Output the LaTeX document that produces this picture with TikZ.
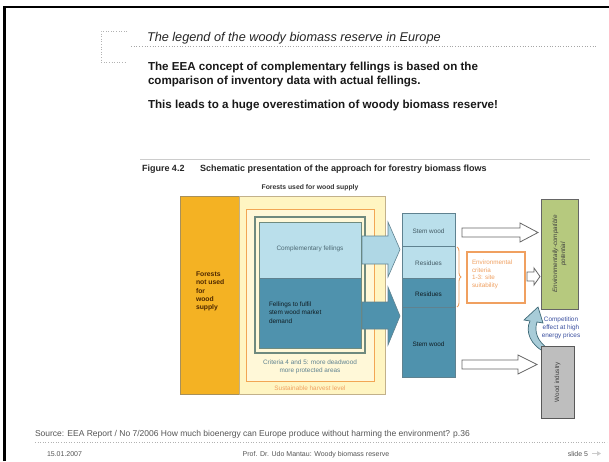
\documentclass[tikz,border=0pt]{standalone}
\usepackage{fontspec}
\setmainfont{Liberation Sans}
\usetikzlibrary{decorations.pathreplacing,arrows.meta}
\definecolor{orangebox}{HTML}{F4B223}
\definecolor{orangeedge}{HTML}{A8905A}
\definecolor{yellowbg}{HTML}{FFF5C2}
\definecolor{yellowin}{HTML}{FFF8D8}
\definecolor{orangeline}{HTML}{F2A654}
\definecolor{frameg}{HTML}{6F8A7E}
\definecolor{lightbluebox}{HTML}{BADFEB}
\definecolor{tealbox}{HTML}{4F92AD}
\definecolor{boxedge}{HTML}{5F8290}
\definecolor{greenbox}{HTML}{B6C97E}
\definecolor{greyboxfill}{HTML}{BEBEBE}
\definecolor{compblue}{HTML}{3A4FA0}
\definecolor{arrowblue}{HTML}{A8CCD8}
\definecolor{arrowdark}{HTML}{3F6A78}
\definecolor{envorange}{HTML}{F0A060}
\definecolor{footgrey}{HTML}{555555}
\newcommand\myfsz[2]{\fontsize{#1}{#2}\selectfont}
\begin{document}
\begin{tikzpicture}[x=1pt,y=-1pt,
  every node/.style={inner sep=0pt,outer sep=0pt},
  smalltxt/.style={font=\myfsz{6.4}{8.2}},
  colbox/.style={draw=boxedge,line width=0.6pt},
  hollowarrow/.style={draw=gray!80!black,fill=white,line width=0.8pt},
  bigarrow/.style={draw=boxedge,line width=0.6pt},
  boldline/.style={anchor=base west,font=\myfsz{11.6}{13}\bfseries,text=black!90},
  footer/.style={font=\myfsz{7}{8},text=footgrey,anchor=base west}]
\useasboundingbox (0,0) rectangle (609,461);
\fill[white] (0,0) rectangle (609,461);
% slide frame
\draw[line width=2.5pt] (4.5,461) -- (4.5,7) -- (609,7);
% title decoration
\draw[gray!60,dotted,line width=0.6pt] (127,31) -- (101,31) -- (101,62) -- (127,62);
\draw[gray!70,dotted,line width=0.7pt] (131,46) -- (597,46);
\node[anchor=base west,font=\myfsz{12.7}{14}\itshape,text=black!85] (title) at (147,41.5)
  {The legend of the woody biomass reserve in Europe};
\node[boldline] (line1) at (148,70.5)
  {The EEA concept of complementary fellings is based on the};
\node[boldline] (line2) at (148,84.5)
  {comparison of inventory data with actual fellings.};
\node[boldline] (line3) at (148,108.5)
  {This leads to a huge overestimation of woody biomass reserve!};
% figure caption
\draw[gray!40,line width=1.2pt] (140,159.5) -- (590,159.5);
\node[anchor=base west,font=\myfsz{9}{10}\bfseries,text=black!85] (fignum) at (142,171) {Figure 4.2};
\node[anchor=base west,font=\myfsz{9}{10}\bfseries,text=black!85] (figcap) at (200,171)
  {Schematic presentation of the approach for forestry biomass flows};
\node[font=\myfsz{6.8}{8}\bfseries,text=black!80] (usedlbl) at (310,188) {Forests used for wood supply};
% left forest blocks
\filldraw[fill=orangebox,draw=orangeedge,line width=0.7pt] (180,196) rectangle (239,394);
\filldraw[fill=yellowbg,draw=orangeedge!70,line width=0.7pt] (239,196) rectangle (385,394);
\filldraw[fill=yellowin,draw=orangeline,line width=0.9pt] (246,209) rectangle (374,381);
\node[anchor=north west,align=left,font=\myfsz{6.8}{8.2}\bfseries,text=black!70!orange] (notused) at (196,272)
  {Forests\\not used\\for\\wood\\supply};
% potential harvest
\filldraw[fill=yellowin,draw=frameg,line width=1.1pt] (255,217) rectangle (365,353);
\filldraw[fill=lightbluebox,colbox] (259,222) rectangle (361,278);
\filldraw[fill=tealbox,colbox] (259,278) rectangle (361,348);
\draw[frameg,line width=0.7pt] (259,222) rectangle (361,348);
\node[smalltxt,text=boxedge!80!black] (compl) at (310,249) {Complementary fellings};
\node[smalltxt,anchor=north west,align=left,text=black!80!tealbox] (demand) at (269,302)
  {Fellings to fulfil\\stem wood market\\demand};
\node[smalltxt,align=center,text=boxedge] (crit45) at (310,367)
  {Criteria 4 and 5: more deadwood\\more protected areas};
\node[smalltxt,text=envorange] (sustain) at (310,388) {Sustainable harvest level};
% big arrows
\filldraw[fill=lightbluebox!90!tealbox,bigarrow] (362,236) -- (388,236) -- (388,222) -- (400,249.5)
  -- (388,277) -- (388,264) -- (362,264) -- cycle;
\filldraw[fill=tealbox,bigarrow] (362,302) -- (388,302) -- (388,287) -- (400,316)
  -- (388,345) -- (388,329) -- (362,329) -- cycle;
% middle column
\filldraw[fill=lightbluebox,colbox] (402,213) rectangle (455,246);
\filldraw[fill=lightbluebox,colbox] (402,246) rectangle (455,278);
\filldraw[fill=tealbox,colbox] (402,278) rectangle (455,307);
\filldraw[fill=tealbox,colbox] (402,307) rectangle (455,377);
\node[smalltxt,text=boxedge!70!black] (stem1) at (428.5,231) {Stem wood};
\node[smalltxt,text=boxedge!70!black] (res1) at (428.5,263) {Residues};
\node[smalltxt,text=black!80!tealbox] (res2) at (428.5,294) {Residues};
\node[smalltxt,text=black!80!tealbox] (stem2) at (428.5,344) {Stem wood};
% brace and environmental criteria
\draw[envorange,line width=0.9pt,decorate,decoration={brace,amplitude=4pt}] (457,247) -- (457,307);
\draw[envorange,line width=1.1pt,fill=white] (467,252) rectangle (525,303);
\node[anchor=north west,align=left,font=\myfsz{6.3}{7.5},text=envorange] (envcrit) at (472,260)
  {Environmental\\criteria\\1-3: site\\suitability};
% hollow arrows
\filldraw[hollowarrow] (462,228) -- (520,228) -- (520,223) -- (538,232.5) -- (520,242) -- (520,237) -- (462,237) -- cycle;
\filldraw[hollowarrow] (527,272) -- (534,272) -- (534,268) -- (540,276.5) -- (534,285) -- (534,281) -- (527,281) -- cycle;
\filldraw[hollowarrow] (462,360) -- (518,360) -- (518,355) -- (537,364.5) -- (518,374) -- (518,369) -- (462,369) -- cycle;
% curved competition arrow
\filldraw[fill=arrowblue,draw=arrowdark,line width=0.7pt]
  (547,353) .. controls (530,346) and (525,331) .. (530,321)
  -- (524,320) -- (538,307) -- (543,323) -- (537,322)
  .. controls (534,331) and (537,342) .. (549,349) -- cycle;
% right boxes
\filldraw[fill=greenbox,draw=gray!80!black,line width=0.7pt] (541,199) rectangle (578,309);
\node[rotate=90,align=center,font=\myfsz{6.3}{8}\itshape,text=black!75] (envpot) at (559.5,254)
  {Environmentally-compatible\\potential};
\filldraw[fill=greyboxfill,draw=gray!70!black,line width=0.7pt] (541,346) rectangle (574,418);
\node[rotate=90,font=\myfsz{6.3}{8},text=black!75] (woodind) at (557.5,382) {Wood industry};
\node[align=center,font=\myfsz{6.4}{8},text=compblue] (compet) at (561,328)
  {Competition\\effect at high\\energy prices};
% footer
\node[anchor=base west,font=\myfsz{8.5}{9},text=footgrey] (source) at (35,436)
  {Source: EEA Report / No 7/2006 How much bioenergy can Europe produce without harming the environment? p.36};
\draw[gray!60,dotted,line width=0.6pt] (35,442) -- (607,442);
\node[footer] (date) at (47,456) {15.01.2007};
\node[footer,anchor=base] (author) at (316,456) {Prof. Dr. Udo Mantau: Woody biomass reserve};
\node[footer,anchor=base east] (slide) at (588,456) {slide 5};
\coordinate (navA) at (592,453.5);
\coordinate (navB) at (601,453.5);
\draw[gray!40,line width=0.8pt,-{Triangle[length=4pt,width=4.5pt]}] (navA) -- (navB);
\end{tikzpicture}
\end{document}
